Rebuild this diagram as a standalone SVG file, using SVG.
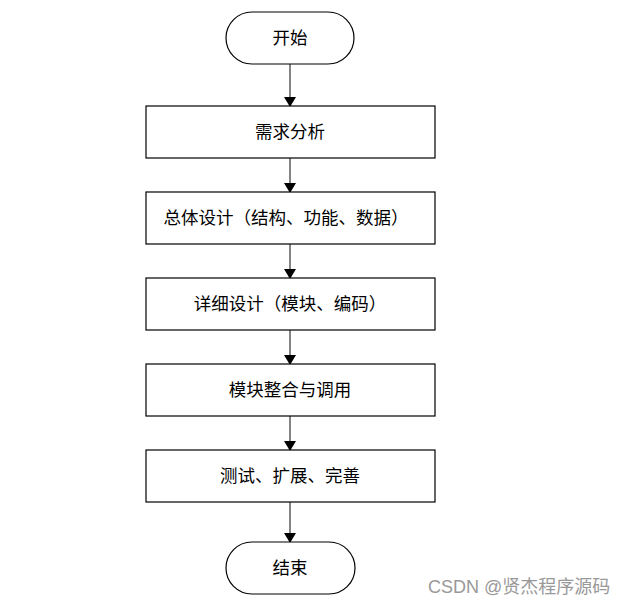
<svg xmlns="http://www.w3.org/2000/svg" width="633" height="606" viewBox="0 0 633 606">
<defs>
<style>
.shape{fill:#fff;stroke:#000;stroke-width:1.2}
.lbl{font-family:"Liberation Sans","Noto Sans CJK SC",sans-serif;font-size:17.5px;fill:#000;text-anchor:middle}
.conn{stroke:#333;stroke-width:1.2;fill:none}
.wm{font-family:"Liberation Sans","Noto Sans CJK SC",sans-serif;font-size:18px;fill:#999}
</style>
<marker id="ah" markerWidth="10" markerHeight="12" refX="9" refY="6" orient="auto" markerUnits="userSpaceOnUse" viewBox="0 0 10 12">
<path d="M0,0 L10,6 L0,12 Z" fill="#000"/>
</marker>
</defs>
<rect width="633" height="606" fill="#fff"/>
<g id="connectors">
<line class="conn" x1="290" y1="64" x2="290" y2="106" marker-end="url(#ah)"/>
<line class="conn" x1="290" y1="158" x2="290" y2="192" marker-end="url(#ah)"/>
<line class="conn" x1="290" y1="244" x2="290" y2="278" marker-end="url(#ah)"/>
<line class="conn" x1="290" y1="330" x2="290" y2="364" marker-end="url(#ah)"/>
<line class="conn" x1="290" y1="416" x2="290" y2="450" marker-end="url(#ah)"/>
<line class="conn" x1="290" y1="502" x2="290" y2="542" marker-end="url(#ah)"/>
</g>
<g id="start">
<rect class="shape" x="226" y="12" width="128" height="52" rx="26" ry="26"/>
<text class="lbl" x="290" y="44">开始</text>
</g>
<g id="n1">
<rect class="shape" x="146" y="106" width="289" height="52"/>
<text class="lbl" x="290" y="138">需求分析</text>
</g>
<g id="n2">
<rect class="shape" x="146" y="192" width="289" height="52"/>
<text class="lbl" x="286" y="224">总体设计（结构、功能、数据）</text>
</g>
<g id="n3">
<rect class="shape" x="146" y="278" width="289" height="52"/>
<text class="lbl" x="290" y="310">详细设计（模块、编码）</text>
</g>
<g id="n4">
<rect class="shape" x="146" y="364" width="289" height="52"/>
<text class="lbl" x="290" y="396">模块整合与调用</text>
</g>
<g id="n5">
<rect class="shape" x="146" y="450" width="289" height="52"/>
<text class="lbl" x="290" y="482">测试、扩展、完善</text>
</g>
<g id="end">
<rect class="shape" x="226" y="542" width="129" height="52" rx="26" ry="26"/>
<text class="lbl" x="290" y="574">结束</text>
</g>
<text class="wm" x="428" y="593">CSDN @贤杰程序源码</text>
</svg>
